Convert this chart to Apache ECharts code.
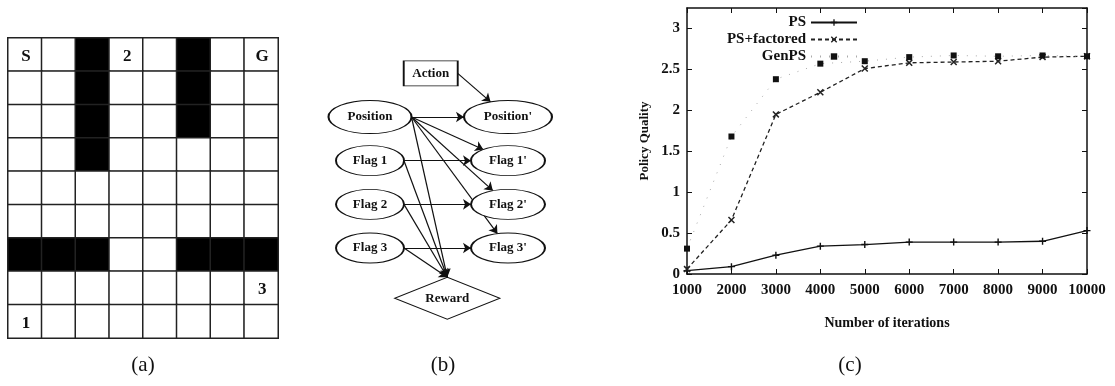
<!DOCTYPE html>
<html>
<head>
<meta charset="utf-8">
<script src="https://cdn.jsdelivr.net/npm/echarts@6/dist/echarts.min.js"></script>
<style>
  html, body { margin: 0; padding: 0; background: #fff; }
  #chart { width: 1115px; height: 386px; }
</style>
</head>
<body>
<div id="chart"></div>
<script>
// (a) grid world: 8 columns x 9 rows
const gridCols = ["0", "1", "2", "3", "4", "5", "6", "7"];
const gridRows = ["0", "1", "2", "3", "4", "5", "6", "7", "8"];
const wallCells = [[2, 0], [2, 1], [2, 2], [2, 3], [5, 0], [5, 1], [5, 2],
  [0, 6], [1, 6], [2, 6], [5, 6], [6, 6], [7, 6]];
const cellMarks = [[0, 0, "S"], [3, 0, "2"], [7, 0, "G"], [7, 7, "3"], [0, 8, "1"]];

// (b) dynamic bayes net
const nodeNames = ["Action", "Position", "Flag 1", "Flag 2", "Flag 3",
  "Position'", "Flag 1'", "Flag 2'", "Flag 3'", "Reward"];
const nodeShapes = ["box", "oval", "oval", "oval", "oval", "oval", "oval", "oval", "oval", "diamond"];
const links = [[0, 5], [1, 5], [1, 6], [1, 7], [1, 8], [1, 9],
  [2, 6], [2, 9], [3, 7], [3, 9], [4, 8], [4, 9]];

// (c) policy quality vs iterations
const iterations = [1000, 2000, 3000, 4000, 5000, 6000, 7000, 8000, 9000, 10000];
const psValues = [0.04, 0.09, 0.23, 0.34, 0.36, 0.39, 0.39, 0.39, 0.40, 0.53];
const psFactoredValues = [0.06, 0.66, 1.95, 2.22, 2.51, 2.58, 2.59, 2.60, 2.65, 2.66];
const genPsValues = [0.31, 1.68, 2.38, 2.57, 2.60, 2.65, 2.67, 2.66, 2.67, 2.66];

// layout of the net in (b): column / row units, node box sizes in px
const nodeCol = [0.44, 0, 0, 0, 0, 1, 1, 1, 1, 0.56];
const nodeRow = [0, 1, 2, 3, 4, 1, 2, 3, 4, 5.15];
const nodeSize = [[54, 25], [83, 33], [68, 30], [68, 30], [68, 30],
  [88, 33], [74, 30], [74, 30], [74, 30], [105, 42]];

const serif = "Liberation Serif";
const ink = "#111";

const chart = echarts.init(document.getElementById("chart"));

// heatmap cells
const isWall = {};
wallCells.forEach((c) => { isWall[c[0] + "," + c[1]] = true; });
const markOf = {};
cellMarks.forEach((m) => { markOf[m[0] + "," + m[1]] = m[2]; });
const cells = [];
gridRows.forEach((r, ri) => {
  gridCols.forEach((c, ci) => {
    const wall = isWall[ci + "," + ri];
    cells.push({ value: [ci, ri, wall ? 1 : 0], itemStyle: { color: wall ? "#000" : "#fff" } });
  });
});

// net geometry
const bGrid = { left: 301, top: 51.5, width: 276, height: 262 };
const bx = [-0.5, 1.5];
const by = [-0.5, 5.5];
const kx = bGrid.width / (bx[1] - bx[0]);
const ky = bGrid.height / (by[1] - by[0]);
const half = (i) => [nodeSize[i][0] / 2 / kx, nodeSize[i][1] / 2 / ky];

const edgeLines = links.map(([s, t]) => {
  const hs = half(s);
  const p = [nodeCol[s] + hs[0], nodeRow[s]];
  const ht = half(t);
  let q;
  if (nodeShapes[t] === "diamond") {
    q = [nodeCol[t], nodeRow[t] - ht[1]];
  } else {
    const ux = p[0] - nodeCol[t];
    const uy = p[1] - nodeRow[t];
    const k = 1 / Math.sqrt((ux / ht[0]) ** 2 + (uy / ht[1]) ** 2);
    q = [nodeCol[t] + ux * k, nodeRow[t] + uy * k];
  }
  return { coords: [p, q] };
});

const symbolOf = {
  box: "rect",
  oval: "path://M0,50A50,50,0,1,1,100,50A50,50,0,1,1,0,50Z",
  diamond: "diamond"
};
const netNodes = nodeNames.map((n, i) => ({
  name: n,
  value: [nodeCol[i], nodeRow[i]],
  symbol: symbolOf[nodeShapes[i]],
  symbolSize: nodeSize[i]
}));

const caption = (text, x) => ({
  text: text,
  left: x,
  top: 355,
  textAlign: "center",
  padding: 0,
  textStyle: { fontFamily: serif, fontSize: 21, fontWeight: "normal", color: ink }
});

const tickStyle = { inside: true, length: 5, lineStyle: { color: ink, width: 1 } };
const frameLine = { show: true, onZero: false, lineStyle: { color: ink, width: 1.5 } };
const labelStyle = { fontFamily: serif, fontSize: 15, fontWeight: "bold", color: ink };

const option = {
  animation: false,
  backgroundColor: "#fff",
  title: [caption("(a)", 143), caption("(b)", 443), caption("(c)", 850)],
  legend: {
    data: ["PS", "PS+factored", "GenPS"],
    orient: "vertical",
    right: 257,
    top: 15,
    align: "right",
    padding: 0,
    itemWidth: 46,
    itemHeight: 8,
    itemGap: 2,
    textStyle: { fontFamily: serif, fontSize: 15, fontWeight: "bold", lineHeight: 14, color: ink }
  },
  grid: [
    { left: 8, top: 38, width: 270, height: 300 },
    bGrid,
    { left: 687, right: 28, top: 8, bottom: 112 }
  ],
  xAxis: [
    { gridIndex: 0, type: "category", data: gridCols, show: false },
    { gridIndex: 1, type: "value", min: bx[0], max: bx[1], show: false },
    {
      gridIndex: 2, type: "value", min: 1000, max: 10000, interval: 1000,
      axisLine: frameLine, axisTick: tickStyle, splitLine: { show: false },
      axisLabel: Object.assign({ margin: 9, formatter: (v) => String(v) }, labelStyle),
      name: "Number of iterations", nameLocation: "middle", nameGap: 42,
      nameTextStyle: { fontFamily: serif, fontSize: 14, fontWeight: "bold", color: ink }
    },
    {
      gridIndex: 2, type: "value", position: "top", min: 1000, max: 10000, interval: 1000,
      axisLine: frameLine, axisTick: tickStyle, splitLine: { show: false },
      axisLabel: { show: false }
    }
  ],
  yAxis: [
    { gridIndex: 0, type: "category", data: gridRows, inverse: true, show: false },
    { gridIndex: 1, type: "value", min: by[0], max: by[1], inverse: true, show: false },
    {
      gridIndex: 2, type: "value", min: 0, max: 3.25, interval: 0.5,
      axisLine: frameLine, axisTick: tickStyle, splitLine: { show: false },
      axisLabel: Object.assign({ margin: 7, showMaxLabel: false }, labelStyle),
      name: "Policy Quality", nameLocation: "middle", nameGap: 36, nameRotate: 90,
      nameTextStyle: { fontFamily: serif, fontSize: 13, fontWeight: "bold", color: ink }
    },
    {
      gridIndex: 2, type: "value", position: "right", min: 0, max: 3.25, interval: 0.5,
      axisLine: frameLine, axisTick: tickStyle, splitLine: { show: false },
      axisLabel: { show: false }
    }
  ],
  series: [
    {
      type: "heatmap",
      xAxisIndex: 0,
      yAxisIndex: 0,
      data: cells,
      itemStyle: { borderColor: "#222", borderWidth: 1.5 },
      label: {
        show: true,
        formatter: (p) => markOf[p.value[0] + "," + p.value[1]] || "",
        fontFamily: serif,
        fontWeight: "bold",
        fontSize: 17,
        color: ink,
        offset: [1, 2]
      },
      emphasis: { disabled: true }
    },
    {
      type: "lines",
      coordinateSystem: "cartesian2d",
      xAxisIndex: 1,
      yAxisIndex: 1,
      symbol: ["none", "arrow"],
      symbolSize: 8,
      lineStyle: { color: ink, width: 1.2, opacity: 1 },
      silent: true,
      data: edgeLines
    },
    {
      type: "graph",
      coordinateSystem: "cartesian2d",
      xAxisIndex: 1,
      yAxisIndex: 1,
      layout: "none",
      data: netNodes,
      links: [],
      itemStyle: { color: "#fff", borderColor: ink, borderWidth: 1.3 },
      label: { show: true, position: "inside", fontFamily: serif, fontSize: 13, fontWeight: "bold", color: ink },
      emphasis: { disabled: true },
      silent: true
    },
    {
      name: "PS",
      type: "line",
      xAxisIndex: 2,
      yAxisIndex: 2,
      data: iterations.map((x, i) => [x, psValues[i]]),
      symbol: "path://M0,4H10V6H0Z M4,0H6V10H4Z",
      symbolSize: 7,
      itemStyle: { color: ink },
      lineStyle: { color: ink, width: 1.3 }
    },
    {
      name: "PS+factored",
      type: "line",
      xAxisIndex: 2,
      yAxisIndex: 2,
      data: iterations.map((x, i) => [x, psFactoredValues[i]]),
      symbol: "path://M0,1.5L1.5,0L10,8.5L8.5,10Z M8.5,0L10,1.5L1.5,10L0,8.5Z",
      symbolSize: 7,
      itemStyle: { color: "#222" },
      lineStyle: { color: "#222", width: 1.3, type: [4, 3] }
    },
    {
      name: "GenPS",
      type: "line",
      xAxisIndex: 2,
      yAxisIndex: 2,
      data: iterations.map((x, i) => [x, genPsValues[i]]),
      symbol: "rect",
      symbolSize: 6,
      itemStyle: { color: ink },
      lineStyle: { color: "#aaa", width: 1, type: [1, 8] }
    }
  ]
};

chart.setOption(option);
</script>
</body>
</html>
